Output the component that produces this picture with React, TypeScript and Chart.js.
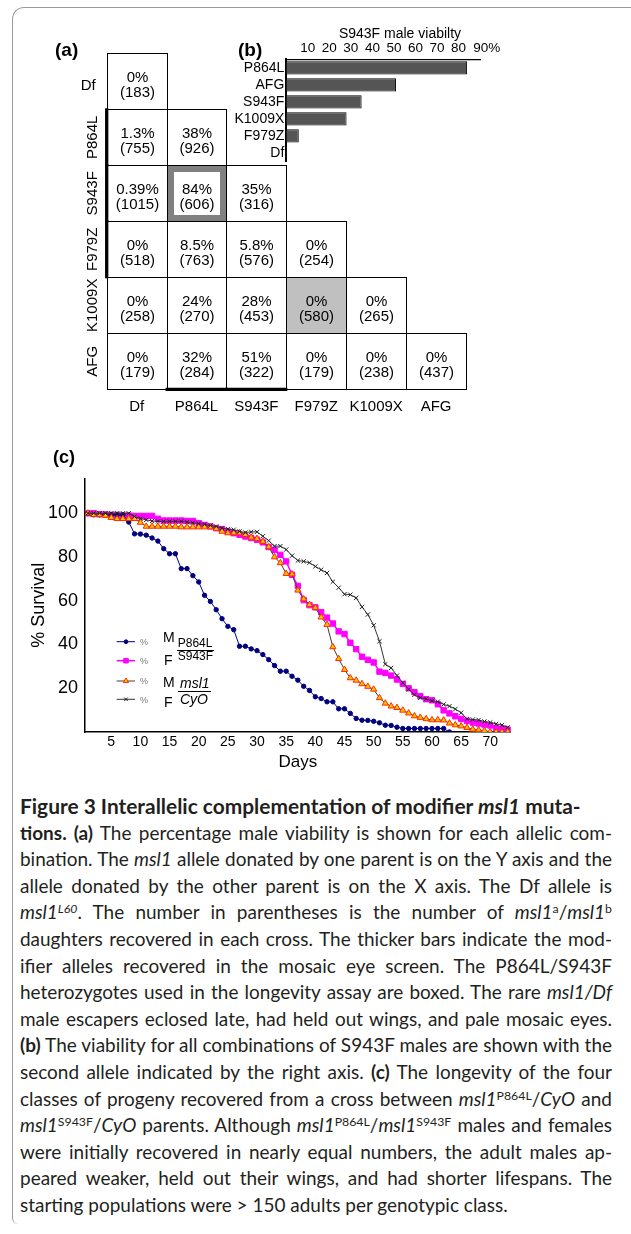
import React, { useEffect, useLayoutEffect, useRef, useState } from 'react';
import { Chart, registerables } from 'chart.js';
import { drawPoint } from 'chart.js/helpers';

Chart.register(...registerables);

const SANS = '"Liberation Sans", Arial, Helvetica, sans-serif';
Chart.defaults.font.family = SANS;
Chart.defaults.color = '#000';

// ---------- Panel (a): male viability matrix ----------
const alleles = ['Df', 'P864L', 'S943F', 'F979Z', 'K1009X', 'AFG'];
const maleViability = [
  [0],
  [1.3, 38],
  [0.39, 84, 35],
  [0, 8.5, 5.8, 0],
  [0, 24, 28, 0, 0],
  [0, 32, 51, 0, 0, 0],
];
const daughterCounts = [
  [183],
  [755, 926],
  [1015, 606, 316],
  [518, 763, 576, 254],
  [258, 270, 453, 580, 265],
  [179, 284, 322, 179, 238, 437],
];
const boxedCross = ['S943F', 'P864L'];
const shadedCross = ['K1009X', 'F979Z'];
const modifierRowAlleles = ['P864L', 'S943F', 'F979Z'];
const modifierColAlleles = ['P864L', 'S943F'];

// ---------- Panel (b): S943F male viability ----------
const s943fPartners = ['P864L', 'AFG', 'S943F', 'K1009X', 'F979Z', 'Df'];
const s943fViability = [84, 51, 35, 28, 5.8, 0.39];
const viabilityTicks = [10, 20, 30, 40, 50, 60, 70, 80, 90];

// ---------- Panel (c): longevity ----------
const days = [
  1, 2, 3, 4, 5, 6, 7, 8, 9, 10, 11, 12, 13, 14, 15, 16, 17, 18, 19, 20,
  21, 22, 23, 24, 25, 26, 27, 28, 29, 30, 31, 32, 33, 34, 35, 36, 37, 38, 39, 40,
  41, 42, 43, 44, 45, 46, 47, 48, 49, 50, 51, 52, 53, 54, 55, 56, 57, 58, 59, 60,
  61, 62, 63, 64, 65, 66, 67, 68, 69, 70, 71, 72, 73,
];
const dayTicks = [5, 10, 15, 20, 25, 30, 35, 40, 45, 50, 55, 60, 65, 70];
const survivalTicks = [20, 40, 60, 80, 100];
const survivalMaleHet = [
  100, 99.3, 99.3, 99.3, 99.3, 99.3, 99.3, 96, 90.6, 90.5,
  90, 88.7, 87.3, 83.8, 81.5, 81.5, 74.7, 74.7, 71.5, 68.6,
  62.5, 59.7, 55.9, 51.8, 48.3, 46.8, 39.2, 39.2, 38, 37.2,
  35.4, 33.1, 30.4, 27.8, 27.8, 25.5, 23.7, 20.9, 19, 16.1,
  15.3, 13.8, 13.8, 10.6, 10.6, 8.5, 6.2, 5.4, 5.3, 4.9,
  4.2, 3.1, 3, 2.2, 1.6, 1.6, 1.6, 1.6, 1.6, 1.6,
  1.6, 1.6, 0, null, null, null, null, null, null, null,
  null, null, null,
];
const survivalFemaleHet = [
  100, 100, 99.6, 99.5, 99.3, 99.3, 99, 99, 98.8, 98.8,
  98.8, 98.8, 97.5, 96.7, 96.7, 96.7, 96.7, 96.5, 96.5, 95.5,
  94.7, 94, 93.2, 92.8, 91.7, 90.9, 90.2, 89.4, 88.7, 87.9,
  86.7, 84.6, 83.3, 81, 78, 71.9, 66.8, 60.3, 58, 57,
  54.8, 52.3, 49.6, 46, 44.8, 40.8, 37.9, 34.4, 33, 31.8,
  27.6, 27, 25.8, 24, 22, 20, 18.2, 16.4, 15, 14.5,
  12.7, 9.9, 8.5, 7.2, 6, 5.1, 4.3, 3.9, 3.4, 3,
  1.8, 1.5, 1.1,
];
const survivalMaleCyO = [
  100, 99.3, 99.3, 99, 98, 97.5, 97.5, 97.5, 97.5, 95.8,
  94, 94, 94, 94, 94, 94, 93.7, 93.7, 93.7, 93.7,
  93.7, 93.7, 93, 91.7, 91, 91, 91, 90.2, 89, 88.4,
  87.1, 84.6, 80, 77.3, 72.4, 72.2, 64.8, 60.8, 58.2, 56.8,
  52.5, 49.1, 38.9, 33.5, 28.5, 24.7, 23.6, 22, 20.8, 19.5,
  15.6, 13.1, 11.8, 11.1, 9.9, 8.6, 7.3, 6.6, 6, 5.5,
  5.5, 5.4, 4, 3.2, 2.7, 2, 1.2, 0.9, 0.6, 0,
  0, 0, 0,
];
const survivalFemaleCyO = [
  100, 100, 100, 100, 100, 100, 100, 100, 98.5, 97.6,
  97, 96.5, 96.3, 96.3, 96.3, 96.3, 96.3, 96, 95.7, 95.3,
  95, 94.4, 94, 93.2, 92.8, 92.5, 91.7, 91.2, 91.5, 91.5,
  89.5, 87.5, 85, 85, 83.4, 80.6, 78.4, 78, 77.4, 75.7,
  74.2, 72.7, 68.7, 66, 63, 62.8, 61.3, 57.2, 53.7, 48.8,
  41.5, 31, 29.3, 25.8, 22.5, 19.5, 17, 15.7, 15.1, 14.3,
  13.9, 12.6, 11.8, 10.5, 8.8, 6, 5.7, 5.5, 4.8, 4.4,
  3.7, 3.2, 2.1,
];
const legendSex = ['M', 'F', 'M', 'F'];
const legendGenotypes = [['P864L', 'S943F'], ['msl1', 'CyO']];

const toPoints = (vals: (number | null)[]) =>
  days.map((d, i) => ({ x: d, y: vals[i] })).filter((p) => p.y !== null);
const fixTicks = (list: number[]) => (s: any) => { s.ticks = list.map((v) => ({ value: v })); };

// ---------- plugins ----------
const tablePlugin = {
  id: 'alleleTable',
  afterDatasetsDraw(chart: any) {
    const { ctx, chartArea } = chart;
    const xs = chart.scales.x;
    const ys = chart.scales.y;
    const px = (v: number) => Math.round(xs.getPixelForValue(v)) + 0.5;
    const py = (v: number) => Math.round(ys.getPixelForValue(v)) + 0.5;
    ctx.save();
    alleles.forEach((rowName, r) => {
      maleViability[r].forEach((v, c) => {
        const x0 = px(c - 0.5), x1 = px(c + 0.5);
        const y0 = py(r - 0.5), y1 = py(r + 0.5);
        if (rowName === shadedCross[0] && alleles[c] === shadedCross[1]) {
          ctx.fillStyle = '#c0c0c0';
          ctx.fillRect(x0, y0, x1 - x0, y1 - y0);
        }
        ctx.strokeStyle = '#000';
        ctx.lineWidth = 1;
        ctx.strokeRect(x0, y0, x1 - x0, y1 - y0);
        if (rowName === boxedCross[0] && alleles[c] === boxedCross[1]) {
          ctx.strokeStyle = '#808080';
          ctx.lineWidth = 6;
          ctx.strokeRect(x0 + 3.5, y0 + 3.5, x1 - x0 - 7, y1 - y0 - 7);
        }
        const cx = (x0 + x1) / 2, cy = (y0 + y1) / 2;
        ctx.fillStyle = '#000';
        ctx.font = '15px ' + SANS;
        ctx.textAlign = 'center';
        ctx.textBaseline = 'middle';
        ctx.fillText(v + '%', cx, cy - 4);
        ctx.fillText('(' + daughterCounts[r][c] + ')', cx, cy + 11);
      });
    });
    ctx.strokeStyle = '#000';
    ctx.lineWidth = 3.3;
    modifierRowAlleles.forEach((a) => {
      const r = alleles.indexOf(a);
      ctx.beginPath();
      ctx.moveTo(xs.getPixelForValue(-0.5), ys.getPixelForValue(r - 0.5) - 1);
      ctx.lineTo(xs.getPixelForValue(-0.5), ys.getPixelForValue(r + 0.5) + 1);
      ctx.stroke();
    });
    modifierColAlleles.forEach((a) => {
      const c = alleles.indexOf(a);
      ctx.beginPath();
      ctx.moveTo(xs.getPixelForValue(c - 0.5) - 1, ys.getPixelForValue(5.5));
      ctx.lineTo(xs.getPixelForValue(c + 0.5) + 1, ys.getPixelForValue(5.5));
      ctx.stroke();
    });
    ctx.fillStyle = '#000';
    ctx.font = '15px ' + SANS;
    ctx.textBaseline = 'middle';
    alleles.forEach((a, r) => {
      const cy = ys.getPixelForValue(r);
      if (r === 0) {
        ctx.textAlign = 'right';
        ctx.fillText(a, chartArea.left - 11, cy + 5);
      } else {
        ctx.save();
        ctx.translate(chartArea.left - 14, cy);
        ctx.rotate(-Math.PI / 2);
        ctx.textAlign = 'center';
        ctx.fillText(a, 0, 0);
        ctx.restore();
      }
    });
    ctx.restore();
  },
};

const survivalLegendPlugin = {
  id: 'survivalLegend',
  afterDraw(chart: any) {
    const { ctx } = chart;
    const rowY = [201.7, 220.7, 241, 259.3];
    ctx.save();
    chart.data.datasets.forEach((ds: any, i: number) => {
      const y = rowY[i];
      ctx.strokeStyle = ds.borderColor;
      ctx.lineWidth = ds.borderWidth;
      ctx.beginPath();
      ctx.moveTo(116.7, y);
      ctx.lineTo(135, y);
      ctx.stroke();
      ctx.fillStyle = ds.pointBackgroundColor;
      ctx.strokeStyle = ds.pointBorderColor;
      ctx.lineWidth = ds.pointBorderWidth;
      drawPoint(ctx, { pointStyle: ds.pointStyle, radius: ds.pointRadius * 0.85, rotation: 0, borderWidth: ds.pointBorderWidth }, 126, y);
      ctx.fillStyle = '#777';
      ctx.font = '9px ' + SANS;
      ctx.textAlign = 'left';
      ctx.textBaseline = 'middle';
      ctx.fillText('%', 140, y + 1);
    });
    ctx.fillStyle = '#000';
    ctx.textAlign = 'left';
    ctx.textBaseline = 'middle';
    ctx.font = '14px ' + SANS;
    ctx.fillText(legendSex[0], 163, 198);
    ctx.fillText(legendSex[1], 164, 221.5);
    ctx.fillText(legendSex[2], 163, 242.7);
    ctx.fillText(legendSex[3], 164, 263.5);
    ctx.font = '12px ' + SANS;
    ctx.fillText(legendGenotypes[0][0], 177.7, 203.3);
    ctx.fillText(legendGenotypes[0][1], 177.7, 217);
    ctx.font = 'italic 14px ' + SANS;
    ctx.fillText(legendGenotypes[1][0], 180, 244.5);
    ctx.fillText(legendGenotypes[1][1], 180, 260);
    ctx.strokeStyle = '#000';
    ctx.lineWidth = 1;
    ctx.beginPath();
    ctx.moveTo(177, 210.5);
    ctx.lineTo(214, 210.5);
    ctx.moveTo(178, 251.5);
    ctx.lineTo(211, 251.5);
    ctx.stroke();
    ctx.restore();
  },
};

// ---------- caption ----------
const CAP_FONT = 'Lato, "Noto Sans", sans-serif';
const Sup = (p: any) => (
  <span style={{ fontSize: '0.65em', position: 'relative', top: '-0.5em', lineHeight: 0 }}>{p.children}</span>
);
const captionLines: { bold?: boolean; justify: boolean; content: any }[] = [
  { bold: true, justify: false, content: <>Figure 3 Interallelic complementation of modifier <i>msl1</i> muta-</> },
  { justify: true, content: <><b>tions. (a)</b> The percentage male viability is shown for each allelic com-</> },
  { justify: true, content: <>bination. The <i>msl1</i> allele donated by one parent is on the Y axis and the</> },
  { justify: true, content: <>allele donated by the other parent is on the X axis. The Df allele is</> },
  { justify: true, content: <><i>msl1</i><Sup><i>L60</i></Sup>. The number in parentheses is the number of <i>msl1</i><Sup>a</Sup>/<i>msl1</i><Sup>b</Sup></> },
  { justify: true, content: <>daughters recovered in each cross. The thicker bars indicate the mod-</> },
  { justify: true, content: <>ifier alleles recovered in the mosaic eye screen. The P864L/S943F</> },
  { justify: true, content: <>heterozygotes used in the longevity assay are boxed. The rare <i>msl1/Df</i></> },
  { justify: true, content: <>male escapers eclosed late, had held out wings, and pale mosaic eyes.</> },
  { justify: true, content: <><b>(b)</b> The viability for all combinations of S943F males are shown with the</> },
  { justify: true, content: <>second allele indicated by the right axis. <b>(c)</b> The longevity of the four</> },
  { justify: true, content: <>classes of progeny recovered from a cross between <i>msl1</i><Sup>P864L</Sup>/<i>CyO</i> and</> },
  { justify: true, content: <><i>msl1</i><Sup>S943F</Sup>/<i>CyO</i> parents. Although <i>msl1</i><Sup>P864L</Sup>/<i>msl1</i><Sup>S943F</Sup> males and females</> },
  { justify: true, content: <>were initially recovered in nearly equal numbers, the adult males ap-</> },
  { justify: true, content: <>peared weaker, held out their wings, and had shorter lifespans. The</> },
  { justify: false, content: <>starting populations were &gt; 150 adults per genotypic class.</> },
];
const CAP_LEFT = 20;
const CAP_WIDTH = 592;
const TITLE_WIDTH = 561;

function Caption() {
  const measure = useRef<(HTMLSpanElement | null)[]>([]);
  const [sc, setSc] = useState({ body: 1, title: 1 });
  useLayoutEffect(() => {
    const run = () => {
      const w = measure.current.map((el) => (el ? el.offsetWidth : 1));
      let body = 10;
      captionLines.forEach((l, k) => {
        if (k > 0 && l.justify) body = Math.min(body, (CAP_WIDTH - 2) / w[k]);
      });
      setSc({ body, title: TITLE_WIDTH / w[0] });
    };
    run();
    const f: any = (document as any).fonts;
    if (f && f.ready) f.ready.then(run);
  }, []);
  const base: any = {
    fontFamily: CAP_FONT,
    fontSize: 19,
    color: '#231f20',
  };
  return (
    <>
      <div style={{ position: 'absolute', left: 0, top: 0, visibility: 'hidden', whiteSpace: 'nowrap' }}>
        {captionLines.map((l, k) => (
          <div key={k}>
            <span ref={(el) => { measure.current[k] = el; }} style={{ ...base, display: 'inline-block', fontWeight: l.bold ? 700 : 400, fontSize: k === 0 ? 20 : 19 }}>
              {l.content}
            </span>
          </div>
        ))}
      </div>
      {captionLines.map((l, k) => {
        const s = k === 0 ? sc.title : sc.body;
        return (
          <div
            key={k}
            style={{
              ...base,
              position: 'absolute',
              left: CAP_LEFT,
              top: Math.round(806 + k * 26.6 - 13),
              width: CAP_WIDTH / s,
              height: 26,
              lineHeight: '26px',
              fontSize: k === 0 ? 20 : 19,
              fontWeight: l.bold ? 700 : 400,
              textAlign: l.justify ? 'justify' : 'left',
              textAlignLast: l.justify ? 'justify' : 'left',
              transform: `scaleX(${s})`,
              transformOrigin: '0 0',
            }}
          >
            {l.content}
          </div>
        );
      })}
    </>
  );
}

export default function App() {
  const aRef = useRef<HTMLCanvasElement>(null);
  const bRef = useRef<HTMLCanvasElement>(null);
  const cRef = useRef<HTMLCanvasElement>(null);

  useEffect(() => {
    const cells: { x: number; y: number }[] = [];
    maleViability.forEach((row, r) => row.forEach((_, c) => cells.push({ x: c, y: r })));

    const chartA = new Chart(aRef.current as HTMLCanvasElement, {
      type: 'scatter',
      data: { datasets: [{ data: cells, pointRadius: 0 }] },
      options: {
        animation: false,
        responsive: false,
        events: [],
        layout: { padding: { left: 66.7, top: 13.3, right: 14, bottom: 0 } },
        plugins: { legend: { display: false }, tooltip: { enabled: false } },
        scales: {
          x: {
            type: 'linear',
            min: -0.5,
            max: 5.5,
            grid: { display: false, drawTicks: false },
            border: { display: false },
            afterBuildTicks: fixTicks(alleles.map((_, i) => i)),
            ticks: {
              autoSkip: false,
              maxRotation: 0,
              padding: 8.7,
              color: '#000',
              font: { size: 15 },
              callback: (v: any) => alleles[v],
            },
            afterFit: (s: any) => { s.height = 30.7; },
          },
          y: { type: 'linear', min: -0.5, max: 5.5, reverse: true, display: false },
        },
      } as any,
      plugins: [tablePlugin],
    });

    const chartB = new Chart(bRef.current as HTMLCanvasElement, {
      type: 'bar',
      data: {
        labels: s943fPartners,
        datasets: [{
          data: s943fViability,
          backgroundColor: '#555555',
          borderColor: '#000',
          borderWidth: 1,
          barPercentage: 0.78,
          categoryPercentage: 1,
        }],
      },
      options: {
        indexAxis: 'y',
        animation: false,
        responsive: false,
        events: [],
        layout: { padding: { left: 0, top: 0, right: 40, bottom: 13.7 } },
        plugins: { legend: { display: false }, tooltip: { enabled: false } },
        scales: {
          x: {
            position: 'top',
            min: 0,
            max: 90,
            grid: { display: false, drawTicks: false },
            border: { display: true, color: '#000', width: 1.3 },
            afterBuildTicks: fixTicks(viabilityTicks),
            ticks: {
              autoSkip: false,
              maxRotation: 0,
              padding: 3,
              color: '#000',
              font: { size: 13.5 },
              callback: (v: any) => (v === 90 ? '\u200390%' : String(v)),
            },
            afterFit: (s: any) => { s.height = 44.3; },
          },
          y: {
            grid: { display: false, drawTicks: false },
            border: { display: true, color: '#000', width: 2 },
            ticks: { padding: 2, color: '#000', font: { size: 14 }, autoSkip: false },
            afterFit: (s: any) => { s.width = 66.3; },
          },
        },
      } as any,
    });

    const chartC = new Chart(cRef.current as HTMLCanvasElement, {
      type: 'line',
      data: {
        datasets: [
          {
            data: toPoints(survivalMaleHet),
            borderColor: '#000080',
            borderWidth: 1,
            pointStyle: 'circle',
            pointRadius: 2.2,
            pointBackgroundColor: '#000080',
            pointBorderColor: '#000080',
            pointBorderWidth: 1,
            order: 3,
          },
          {
            data: toPoints(survivalFemaleHet),
            borderColor: '#ff00ff',
            borderWidth: 1.5,
            pointStyle: 'rect',
            pointRadius: 3.8,
            pointBackgroundColor: '#ff00ff',
            pointBorderColor: '#ff00ff',
            pointBorderWidth: 1,
            order: 4,
          },
          {
            data: toPoints(survivalMaleCyO),
            borderColor: '#4a3a30',
            borderWidth: 1,
            pointStyle: 'triangle',
            pointRadius: 3.6,
            pointBackgroundColor: '#ffc000',
            pointBorderColor: '#ff2a00',
            pointBorderWidth: 1,
            order: 2,
          },
          {
            data: toPoints(survivalFemaleCyO),
            borderColor: '#333333',
            borderWidth: 1,
            pointStyle: 'crossRot',
            pointRadius: 3,
            pointBackgroundColor: '#222222',
            pointBorderColor: '#222222',
            pointBorderWidth: 1,
            order: 1,
          },
        ],
      },
      options: {
        animation: false,
        responsive: false,
        events: [],
        layout: { padding: { left: 0, top: 38.3, right: 120.3, bottom: 0 } },
        plugins: { legend: { display: false }, tooltip: { enabled: false } },
        scales: {
          x: {
            type: 'linear',
            min: 0.5,
            max: 73.5,
            grid: { display: false, drawTicks: false },
            border: { display: true, color: '#000', width: 1.5 },
            afterBuildTicks: fixTicks(dayTicks),
            ticks: {
              autoSkip: false,
              maxRotation: 0,
              padding: 2,
              color: '#000',
              font: { size: 14 },
              callback: (v: any) => String(v),
            },
            title: { display: true, text: 'Days', color: '#000', font: { size: 17 }, padding: { top: 0, bottom: 7.8 } },
            afterFit: (s: any) => { s.height = 48; },
          },
          y: {
            type: 'linear',
            min: 0,
            max: 116,
            grid: { display: false, drawTicks: false },
            border: { display: true, color: '#000', width: 1.5 },
            afterBuildTicks: fixTicks(survivalTicks),
            ticks: {
              autoSkip: false,
              padding: 7,
              color: '#000',
              font: { size: 18 },
              callback: (v: any) => String(v),
            },
            title: { display: true, text: '% Survival', color: '#000', font: { size: 18 }, padding: { top: 28.5, bottom: 0 } },
            afterFit: (s: any) => { s.width = 85; },
          },
        },
      } as any,
      plugins: [survivalLegendPlugin],
    });

    return () => {
      chartA.destroy();
      chartB.destroy();
      chartC.destroy();
    };
  }, []);

  const panelLabel = (text: string, left: number, top: number, size: number) => (
    <div style={{ position: 'absolute', left, top, fontFamily: SANS, fontWeight: 700, fontSize: size, lineHeight: '20px', color: '#000' }}>{text}</div>
  );

  return (
    <div style={{ position: 'absolute', left: 0, top: 0, width: 631, height: 1234, background: '#fff', overflow: 'hidden' }}>
      <div
        style={{
          position: 'absolute',
          left: 12,
          top: 7,
          width: 700,
          height: 1216,
          borderLeft: '1px solid #9a9a9a',
          borderTop: '1px solid #9a9a9a',
          borderTopLeftRadius: 12,
          borderBottomLeftRadius: 6,
        }}
      />
      <canvas ref={aRef} width={440} height={380} style={{ position: 'absolute', left: 40, top: 40, width: 440, height: 380 }} />
      <canvas ref={bRef} width={300} height={160} style={{ position: 'absolute', left: 220, top: 15, width: 300, height: 160 }} />
      <canvas ref={cRef} width={631} height={340} style={{ position: 'absolute', left: 0, top: 440, width: 631, height: 340 }} />
      {panelLabel('(a)', 55, 40, 19)}
      {panelLabel('(b)', 238, 40, 19)}
      {panelLabel('(c)', 53, 447, 18)}
      <div style={{ position: 'absolute', left: 300, top: 25, width: 200, textAlign: 'center', fontFamily: SANS, fontSize: 14, lineHeight: '16px', color: '#000' }}>
        S943F male viabilty
      </div>
      <Caption />
    </div>
  );
}
